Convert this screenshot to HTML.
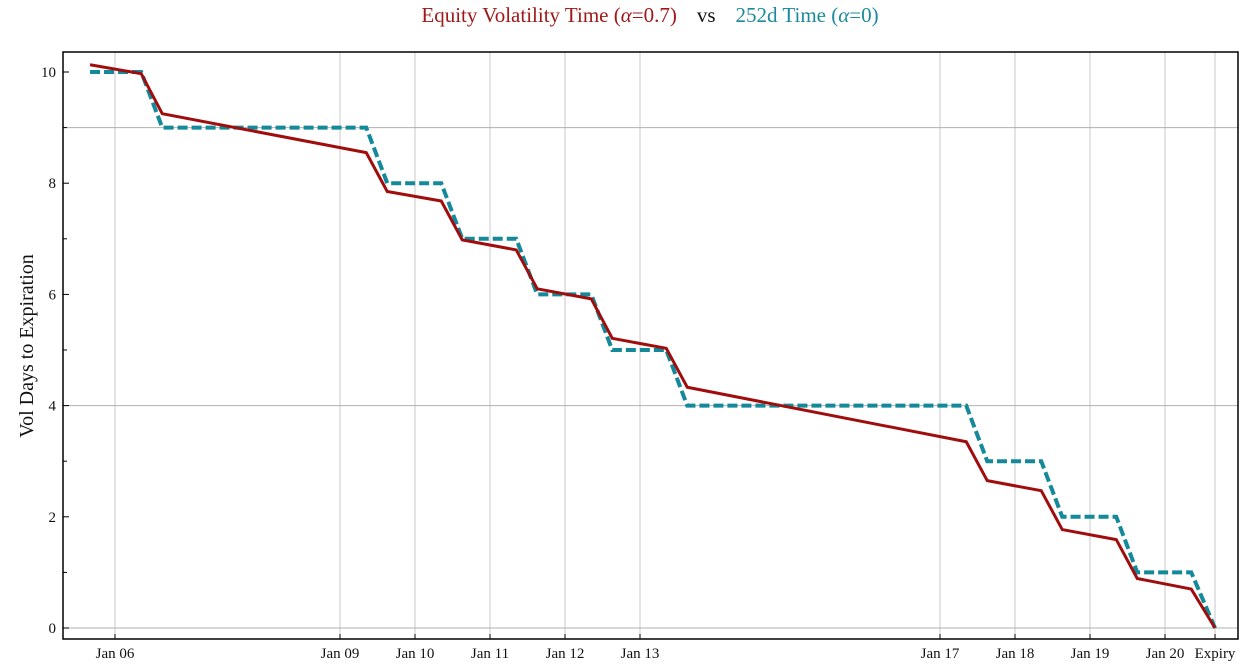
<!DOCTYPE html>
<html><head><meta charset="utf-8"><style>
html,body{margin:0;padding:0;background:#fff;}
svg{display:block;font-family:"Liberation Serif",serif;}
</style></head><body>
<svg id="chart" width="1250" height="666" viewBox="0 0 1250 666">
<text x="650" y="22" text-anchor="middle" font-size="21"><tspan fill="#a01818">Equity Volatility Time (<tspan font-style="italic">α</tspan>=0.7)</tspan><tspan fill="#111" dx="20">vs</tspan><tspan fill="#1a8a9a" dx="20">252d Time (<tspan font-style="italic">α</tspan>=0)</tspan></text>
<text transform="translate(33,346) rotate(-90)" text-anchor="middle" font-size="20" fill="#111">Vol Days to Expiration</text>
<g id="grid"></g><g id="axes"></g><g id="series"></g>
<rect x="63" y="52" width="1175" height="587" fill="none" stroke="#000" stroke-width="1.5"/>
</svg>
<script>
// times in days since Jan 06 00:00
const times=[-0.333,0.35,0.63,3.35,3.63,4.35,4.63,5.35,5.63,6.35,6.63,7.35,7.63,11.35,11.63,12.35,12.63,13.35,13.63,14.35,14.667];
const volTime=[10.13,9.97,9.25,8.55,7.85,7.68,6.98,6.80,6.10,5.92,5.21,5.03,4.33,3.35,2.65,2.47,1.77,1.59,0.89,0.70,0];
const tradTime=[10,10,9,9,8,8,7,7,6,6,5,5,4,4,3,3,2,2,1,1,0];
const xTickDays=[0,3,4,5,6,7,11,12,13,14,14.667];
const xTickLabels=["Jan 06","Jan 09","Jan 10","Jan 11","Jan 12","Jan 13","Jan 17","Jan 18","Jan 19","Jan 20","Expiry"];
const yTicks=[0,2,4,6,8,10];
const yMinor=[1,3,5,7,9];
const yGrid=[0,4,9];
const ns="http://www.w3.org/2000/svg";
const X=d=>115+75*d, Y=v=>628-55.6*v;
function mk(tag,attrs,parent){const e=document.createElementNS(ns,tag);for(const k in attrs)e.setAttribute(k,attrs[k]);parent.appendChild(e);return e;}
const grid=document.getElementById('grid'),axes=document.getElementById('axes'),ser=document.getElementById('series');
xTickDays.forEach((d,i)=>{
 const l=mk('line',{x1:X(d),x2:X(d),y1:52,y2:639,stroke:'#c8c8c8','stroke-width':1},grid);
 
 
 mk('line',{x1:X(d),x2:X(d),y1:639,y2:634,stroke:'#000'},axes);
 const t=mk('text',{x:X(d),y:658,'text-anchor':'middle','font-size':15,fill:'#111'},axes);
 t.textContent=xTickLabels[i];
 
 
});
yGrid.forEach(v=>{
 const l=mk('line',{x1:63,x2:1238,y1:Y(v),y2:Y(v),stroke:'#b0b0b0','stroke-width':1},grid);
 
 
});
yTicks.forEach(v=>{
 mk('line',{x1:63,x2:69,y1:Y(v),y2:Y(v),stroke:'#000'},axes);
 const t=mk('text',{x:56,y:Y(v)+5,'text-anchor':'end','font-size':15,fill:'#111'},axes);
 t.textContent=v;
 
 
});
yMinor.forEach(v=>{mk('line',{x1:63,x2:67,y1:Y(v),y2:Y(v),stroke:'#000'},axes);});
const pts=a=>times.map((t,i)=>X(t)+','+Y(a[i])).join(' ');
const b=mk('polyline',{points:pts(tradTime),fill:'none',stroke:'#14899a','stroke-width':4,'stroke-dasharray':'10,4'},ser);


const r=mk('polyline',{points:pts(volTime),fill:'none',stroke:'#a00d0d','stroke-width':3},ser);


</script>
</body></html>
